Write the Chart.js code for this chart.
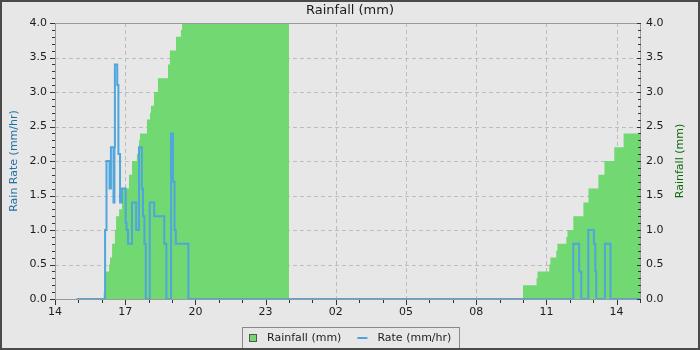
<!DOCTYPE html>
<html>
<head>
<meta charset="utf-8">
<script src="https://cdn.jsdelivr.net/npm/chart.js@4.4.1/dist/chart.umd.min.js"></script>
<style>
html,body{margin:0;padding:0;background:#e7e7e7;}
#wrap{position:absolute;left:0;top:0;width:700px;height:350px;box-sizing:border-box;border:2px solid #4a4a4a;background:#e7e7e7;}
canvas{display:block;}
</style>
</head>
<body>
<div id="wrap"><canvas id="c" width="696" height="346"></canvas></div>
<script>
// ---- data (x = hours since 14:00) ----
const hourTicks = ['14','17','20','23','02','05','08','11','14'];
const yTicks = ['0.0','0.5','1.0','1.5','2.0','2.5','3.0','3.5','4.0'];

const rainTimes  = [1.0, 2.08, 2.17, 2.31, 2.35, 2.44, 2.56, 2.61, 2.74, 2.86, 3.16, 3.29, 3.50, 3.55, 3.59, 3.63, 3.93, 4.06, 4.10, 4.23, 4.40, 4.83, 4.91, 5.17, 5.38, 5.43, 5.60, 10.0,
                    20.0, 20.58, 20.62, 21.12, 21.17, 21.42, 21.47, 21.85, 21.90, 22.15, 22.58, 22.80, 23.22, 23.48, 23.90, 24.30, 25.0];
const rainValues = [0, 0.1, 0.4, 0.5, 0.6, 0.8, 1.0, 1.2, 1.3, 1.6, 1.8, 2.0, 2.1, 2.2, 2.3, 2.4, 2.6, 2.7, 2.8, 3.0, 3.2, 3.4, 3.6, 3.8, 3.9, 4.0, 4.2, 0,
                    0.2, 0.3, 0.4, 0.5, 0.6, 0.7, 0.8, 0.9, 1.0, 1.2, 1.4, 1.6, 1.8, 2.0, 2.2, 2.4, 2.4];

const rateTimes  = [0.92, 2.14, 2.20, 2.33, 2.39, 2.50, 2.54, 2.56, 2.66, 2.71, 2.78, 2.86, 3.02, 3.06, 3.12, 3.29, 3.47, 3.59, 3.71, 3.76, 3.82, 3.88, 4.05, 4.24, 4.67, 4.76, 4.96, 5.04, 5.11, 5.16, 5.70,
                    22.15, 22.40, 22.49, 22.79, 23.03, 23.09, 23.13, 23.50, 23.74, 25.0];
const rateValues = [0, 1.0, 2.0, 1.6, 2.2, 1.4, 2.2, 3.4, 3.1, 2.1, 1.4, 1.6, 1.1, 1.0, 0.8, 1.4, 1.0, 2.2, 1.6, 1.2, 0.8, 0, 1.4, 1.2, 0.8, 0, 2.4, 1.7, 1.0, 0.8, 0,
                    0.8, 0.4, 0, 1.0, 0.8, 0.4, 0, 0.8, 0, 0];

// ---- styles ----
const C = {
  green:'#72d872', blue:'#4ea6dc', grid:'#bcbcbc', frame:'#9a9a9a', text:'#1c1c1c',
  rateTitle:'#1f6fa6', rainTitle:'#0d6b0d', legendBorder:'#8a8a8a'
};
const FAM = '"DejaVu Sans", sans-serif';

const decor = {
  id:'decor',
  beforeDatasetsDraw(chart){
    const {ctx, chartArea:a, scales:{x, y}} = chart;
    ctx.save();
    ctx.strokeStyle = C.grid; ctx.lineWidth = 1; ctx.setLineDash([4,3]);
    for (let h = 3; h < 25; h += 3) {
      const px = Math.round(x.getPixelForValue(h)) + 0.5;
      ctx.beginPath(); ctx.moveTo(px, a.top); ctx.lineTo(px, a.bottom); ctx.stroke();
    }
    for (let i = 1; i < 8; i++) {
      const py = Math.round(y.getPixelForValue(i*0.5)) + 0.5;
      ctx.beginPath(); ctx.moveTo(a.left, py); ctx.lineTo(a.right, py); ctx.stroke();
    }
    ctx.restore();
  },
  afterDatasetsDraw(chart){
    const {ctx, chartArea:a, scales:{x, y, y2}} = chart;
    ctx.save();
    ctx.setLineDash([]);
    ctx.strokeStyle = C.frame; ctx.lineWidth = 1;
    ctx.strokeRect(a.left + 0.5, a.top + 0.5, a.right - a.left, a.bottom - a.top);
    ctx.strokeStyle = '#333';
    ctx.beginPath();
    for (let h = 0; h <= 25; h++) {
      const px = Math.round(x.getPixelForValue(h)) + 0.5;
      const len = (h % 3 === 0) ? 5 : 3;
      ctx.moveTo(px, a.bottom + 1); ctx.lineTo(px, a.bottom + 1 + len);
    }
    for (let i = 0; i <= 40; i++) {
      const py = Math.round(y.getPixelForValue(i/10)) + 0.5;
      const len = (i % 5 === 0) ? 5 : 3;
      ctx.moveTo(a.left - len, py); ctx.lineTo(a.left, py);
      const py2 = Math.round(y2.getPixelForValue(i/10)) + 0.5;
      const len2 = (i % 5 === 0) ? 4 : 3;
      ctx.moveTo(a.right - len2 + 1, py2); ctx.lineTo(a.right + 1, py2);
    }
    ctx.stroke();
    ctx.restore();
  },
  afterDraw(chart){
    const {ctx, chartArea:a} = chart;
    ctx.save();
    // right axis title (reads bottom to top)
    ctx.font = '11px ' + FAM;
    ctx.fillStyle = C.rainTitle;
    ctx.textAlign = 'center'; ctx.textBaseline = 'middle';
    ctx.translate(678, (a.top + a.bottom) / 2);
    ctx.rotate(-Math.PI/2);
    ctx.fillText(chart.options.scales.y2.titleText, 0, 0);
    ctx.restore();

    // legend
    ctx.save();
    ctx.font = '11px ' + FAM;
    const ds = chart.data.datasets;
    const l1 = ds[1].label, l2 = ds[0].label;
    const w1 = ctx.measureText(l1).width, w2 = ctx.measureText(l2).width;
    const pad = 7, sq = 8, gap = 10, sep = 16, lw = 10;
    const boxW = Math.round(sq + gap + w1 + sep + lw + gap + w2 + 2*pad + 1);
    const boxX = Math.round(chart.width/2 - boxW/2);
    const boxY = 325;
    ctx.strokeStyle = C.legendBorder; ctx.lineWidth = 1;
    ctx.strokeRect(boxX + 0.5, boxY + 0.5, boxW, 24);
    let cx = boxX + pad;
    const cy = 336;
    ctx.fillStyle = C.green; ctx.fillRect(cx, cy - 4, sq, sq);
    ctx.strokeStyle = '#555'; ctx.strokeRect(cx + 0.5, cy - 3.5, sq - 1, sq - 1);
    cx += sq + gap;
    ctx.fillStyle = C.text; ctx.textAlign = 'left'; ctx.textBaseline = 'middle';
    ctx.fillText(l1, cx, cy);
    cx += w1 + sep;
    ctx.fillStyle = C.blue; ctx.fillRect(cx, cy - 1, lw, 2);
    cx += lw + gap;
    ctx.fillStyle = C.text;
    ctx.fillText(l2, cx, cy);
    ctx.restore();
  }
};

const tickFont = {family: FAM, size: 11};

new Chart(document.getElementById('c'), {
  type: 'line',
  data: {
    datasets: [
      {
        label: 'Rate (mm/hr)',
        data: rateTimes.map((t, i) => ({x: t, y: rateValues[i]})),
        yAxisID: 'y', borderColor: C.blue, borderWidth: 2, pointRadius: 0,
        stepped: 'before', fill: false, order: 0, clip: 3
      },
      {
        label: 'Rainfall (mm)',
        data: rainTimes.map((t, i) => ({x: t, y: rainValues[i]})),
        yAxisID: 'y2', backgroundColor: C.green, borderColor: 'rgba(0,0,0,0)', borderWidth: 0,
        pointRadius: 0, stepped: 'before', fill: 'origin', order: 1
      }
    ]
  },
  options: {
    responsive: false, animation: false, events: [],
    layout: {padding: {top: 0, left: 0, right: 0, bottom: 21}},
    plugins: {
      legend: {display: false},
      tooltip: {enabled: false},
      title: {display: true, text: 'Rainfall (mm)', color: C.text,
              font: {family: FAM, size: 13, weight: 'normal'}, padding: {top: 1, bottom: 4.4}}
    },
    scales: {
      x: {
        type: 'linear', min: 0, max: 25,
        grid: {display: false, drawTicks: false}, border: {display: false},
        ticks: {stepSize: 3, includeBounds: false, autoSkip: false, maxRotation: 0, padding: 7,
                font: tickFont, color: C.text, callback: (v) => hourTicks[Math.round(v/3)]},
        afterFit(s) { s.height = 28; }
      },
      y: {
        position: 'left', min: 0, max: 4,
        grid: {display: false, drawTicks: false}, border: {display: false},
        ticks: {stepSize: 0.5, padding: 8, font: tickFont, color: C.text,
                callback: (v) => yTicks[Math.round(v*2)]},
        title: {display: true, text: 'Rain Rate (mm/hr)', color: C.rateTitle,
                font: {family: FAM, size: 11}, padding: {top: 5.4, bottom: 0}},
        afterFit(s) { s.width = 53; }
      },
      y2: {
        position: 'right', min: 0, max: 4, titleText: 'Rainfall (mm)',
        grid: {display: false, drawTicks: false}, border: {display: false},
        ticks: {stepSize: 0.5, padding: 6, font: tickFont, color: C.text,
                callback: (v) => yTicks[Math.round(v*2)]},
        afterFit(s) { s.width = 58; }
      }
    }
  },
  plugins: [decor]
});
</script>
</body>
</html>
